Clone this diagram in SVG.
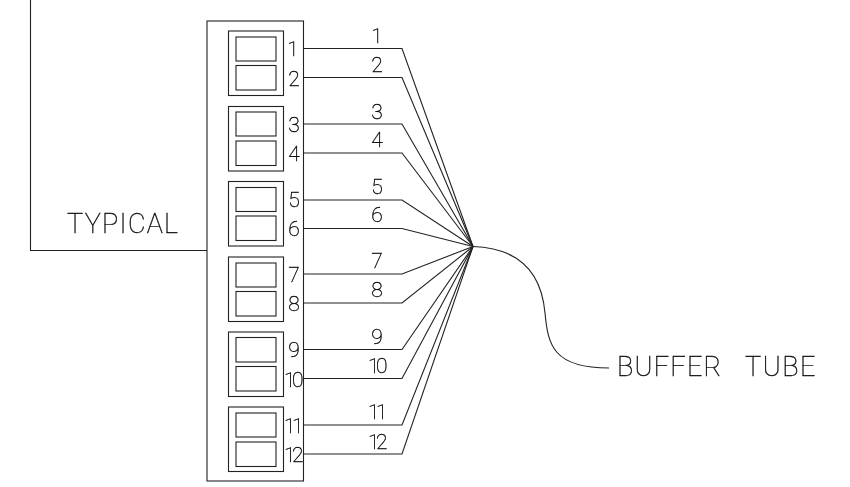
<svg xmlns="http://www.w3.org/2000/svg" width="850" height="487" viewBox="0 0 850 487">
<defs><filter id="gray" x="-20%" y="-20%" width="140%" height="140%" color-interpolation-filters="sRGB"><feColorMatrix type="saturate" values="0"/></filter></defs>
<style>
rect,path{fill:none;stroke:#222;stroke-width:1.1}
text{font-family:"Roboto","Liberation Sans",sans-serif;font-weight:100;fill:#111;stroke:#111;stroke-width:.4;filter:url(#gray)}
.n{font-size:21px;text-anchor:middle}
.d{letter-spacing:-3.500px}
.b{font-size:27px}
</style>
<rect width="850" height="487" style="fill:#fff;stroke:none"/>
<g id="typical"><path d="M30.500 0V250.500H207"/><text class="b" x="67" y="233" textLength="111" lengthAdjust="spacing">TYPICAL</text></g>
<g id="panel"><rect x="207" y="21" width="96.500" height="460"/></g>
<g id="module-1"><rect x="228.500" y="31" width="55" height="64.500"/><rect x="236" y="37" width="40" height="24"/><rect x="236" y="65.500" width="40" height="24.500"/><text class="n" x="293" y="56">1</text><text class="n" x="294" y="86">2</text></g>
<g id="module-2"><rect x="228.500" y="106.500" width="55" height="64.500"/><rect x="236" y="112" width="40" height="24"/><rect x="236" y="141" width="40" height="24.500"/><text class="n" x="294" y="132">3</text><text class="n" x="294" y="161">4</text></g>
<g id="module-3"><rect x="228.500" y="181.500" width="55" height="64.500"/><rect x="236" y="187.500" width="40" height="24"/><rect x="236" y="216" width="40" height="24.500"/><text class="n" x="294" y="207">5</text><text class="n" x="294" y="236">6</text></g>
<g id="module-4"><rect x="228.500" y="257" width="55" height="64.500"/><rect x="236" y="263" width="40" height="24"/><rect x="236" y="291.500" width="40" height="24.500"/><text class="n" x="294" y="282">7</text><text class="n" x="294" y="311">8</text></g>
<g id="module-5"><rect x="228.500" y="332" width="55" height="64.500"/><rect x="236" y="337.500" width="40" height="24.500"/><rect x="236" y="366.500" width="40" height="24.500"/><text class="n" x="294" y="357">9</text><text class="n d" x="292" y="387">10</text></g>
<g id="module-6"><rect x="228.500" y="407" width="55" height="64.500"/><rect x="236" y="413" width="40" height="24"/><rect x="236" y="442" width="40" height="24.500"/><text class="n d" x="292" y="433">11</text><text class="n d" x="292" y="462">12</text></g>
<g id="connectors">
<path d="M303 48.500H402L473 246.500"/><path d="M303 77.500H402L473 246.500"/>
<path d="M303 124H402L473 246.500"/><path d="M303 153H402L473 246.500"/>
<path d="M303 200H402L473 246.500"/><path d="M303 228.500H402L473 246.500"/>
<path d="M303 274H402L473 246.500"/><path d="M303 303H402L473 246.500"/>
<path d="M303 349.500H402L473 246.500"/><path d="M303 378.500H402L473 246.500"/>
<path d="M303 425H402L473 246.500"/><path d="M303 454H402L473 246.500"/>
<path d="M473 246.500C515 248 541 268 545 313C548 345 553 368 609 368"/>
</g>
<g id="wire-labels">
<text class="n" x="377" y="43">1</text><text class="n" x="377" y="72">2</text>
<text class="n" x="377" y="119">3</text><text class="n" x="377" y="147">4</text>
<text class="n" x="377" y="194">5</text><text class="n" x="377" y="222">6</text>
<text class="n" x="377" y="268">7</text><text class="n" x="377" y="297">8</text>
<text class="n" x="377" y="344">9</text><text class="n d" x="376" y="373">10</text>
<text class="n d" x="376" y="419">11</text><text class="n d" x="376" y="449">12</text>
</g>
<g id="buffer-tube"><text class="b" y="376"><tspan x="617" letter-spacing="1.200">BUFFER </tspan><tspan x="745" letter-spacing="1.500">TUBE</tspan></text></g>
</svg>
